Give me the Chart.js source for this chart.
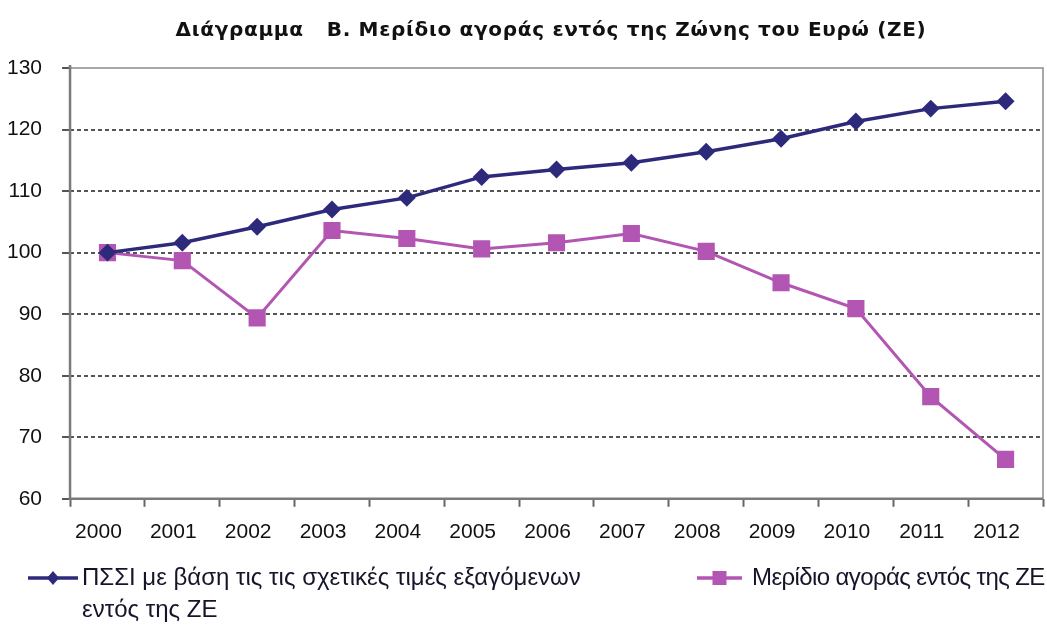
<!DOCTYPE html>
<html><head><meta charset="utf-8">
<script src="https://cdn.jsdelivr.net/npm/chart.js@4.4.0/dist/chart.umd.min.js"></script>
<style>
html,body{margin:0;padding:0;background:#fff;width:1047px;height:626px;overflow:hidden;}
#wrap{position:absolute;left:0;top:0;width:1047px;height:550px;}
.leg{position:absolute;font-family:"Liberation Sans",Arial,sans-serif;font-size:24px;color:#15152a;line-height:32px;white-space:nowrap;}
</style></head><body>
<div id="wrap"><canvas id="c" width="1047" height="550"></canvas></div>
<canvas id="lg" width="1047" height="76" style="position:absolute;left:0;top:550px;"></canvas>
<div class="leg" id="l1" style="left:82px;top:561px;">ΠΣΣΙ με βάση τις τις σχετικές τιμές εξαγόμενων<br>εντός της ΖΕ</div>
<div class="leg" id="l2" style="left:752px;top:561px;letter-spacing:-0.6px;">Μερίδιο αγοράς εντός της ΖΕ</div>
<script>
const categories = ["2000","2001","2002","2003","2004","2005","2006","2007","2008","2009","2010","2011","2012"];
const psiValues = [100,101.6,104.2,107,108.9,112.3,113.5,114.6,116.4,118.5,121.3,123.4,124.6];
const shareValues = [100,98.7,89.4,103.6,102.3,100.6,101.6,103.1,100.2,95.1,90.9,76.6,66.4];
const seriesNames = ["ΠΣΣΙ με βάση τις τις σχετικές τιμές εξαγόμενων εντός της ΖΕ","Μερίδιο αγοράς εντός της ΖΕ"];
const titleText = "Διάγραμμα   Β. Μερίδιο αγοράς εντός της Ζώνης του Ευρώ (ΖΕ)";
const navy = "#2d2a7c", pink = "#b355b2";
const tickFont = {family:"Liberation Sans", size:21};

const framePlugin = {
  id:'frame',
  beforeDatasetsDraw(chart){
    const {ctx, chartArea:a} = chart;
    ctx.save();
    ctx.setLineDash([]);
    ctx.strokeStyle = "#8c8c8c"; ctx.lineWidth = 1.5;
    ctx.beginPath();
    ctx.moveTo(a.left,a.top); ctx.lineTo(a.right,a.top); ctx.lineTo(a.right,a.bottom);
    ctx.stroke();
    ctx.strokeStyle = "#7a7a7a"; ctx.lineWidth = 2.5;
    ctx.beginPath();
    ctx.moveTo(a.left,a.top-3); ctx.lineTo(a.left,a.bottom); ctx.lineTo(a.right,a.bottom);
    ctx.stroke();
    ctx.restore();
  },
  afterDraw(chart){
    const {ctx} = chart;
    ctx.save();
    ctx.font = "bold 20px 'DejaVu Sans'";
    ctx.letterSpacing = "0.7px";
    ctx.fillStyle = "#111";
    ctx.textAlign = "center"; ctx.textBaseline = "middle";
    ctx.fillText(titleText, 551, 31);
    ctx.restore();
  }
};

new Chart(document.getElementById('c'), {
  type:'line',
  data:{labels:categories, datasets:[
    {label:seriesNames[0], data:psiValues, borderColor:navy, backgroundColor:navy, borderWidth:3.5,
     pointStyle:'rectRot', pointRadius:6.5, pointHoverRadius:6.5, tension:0},
    {label:seriesNames[1], data:shareValues, borderColor:pink, backgroundColor:pink, borderWidth:3,
     pointStyle:'rect', pointRadius:10, pointHoverRadius:10, tension:0}
  ]},
  options:{
    responsive:false, animation:false, devicePixelRatio:1,
    layout:{autoPadding:false, padding:{left:-13,right:4,top:68,bottom:-8}},
    plugins:{legend:{display:false}, tooltip:{enabled:false}, title:{display:false}},
    scales:{
      x:{offset:true,
        grid:{offset:true, drawOnChartArea:false, drawTicks:true, tickLength:8, tickColor:"#666", tickWidth:2},
        border:{display:false},
        ticks:{color:"#111", font:tickFont, padding:13, labelOffset:-9, autoSkip:false, maxRotation:0}},
      y:{min:60, max:130,
        ticks:{stepSize:10, color:"#111", font:tickFont, padding:20},
        border:{display:false, dash:[4,3]},
        grid:{color:(c)=> (c.tick && (c.tick.value===60||c.tick.value===130)) ? 'rgba(0,0,0,0)' : '#555',
          lineWidth:2, tickBorderDash:[], tickLength:8, tickColor:"#555", tickWidth:2}}
    }
  },
  plugins:[framePlugin]
});

// legend markers
const lg = document.getElementById('lg').getContext('2d');
function marker(x1,x2,y,color,style){
  lg.strokeStyle=color; lg.fillStyle=color; lg.lineWidth=3.5;
  lg.beginPath(); lg.moveTo(x1,y); lg.lineTo(x2,y); lg.stroke();
  const cx=(x1+x2)/2;
  if(style==='d'){ lg.beginPath(); lg.moveTo(cx,y-7); lg.lineTo(cx+6,y); lg.lineTo(cx,y+7); lg.lineTo(cx-6,y); lg.closePath(); lg.fill(); }
  else { lg.fillRect(cx-7,y-7,14,14); }
}
marker(28,78,28,navy,'d');
marker(697,742,28,pink,'s');
</script>
</body></html>
